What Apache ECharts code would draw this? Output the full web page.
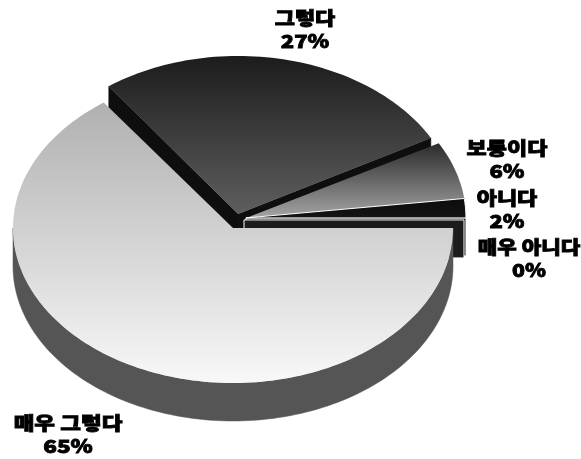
<!DOCTYPE html>
<html><head><meta charset="utf-8">
<script src="https://cdn.jsdelivr.net/npm/echarts@6/dist/echarts.min.js"></script>
<style>html,body{margin:0;padding:0;background:#fff}#c{width:581px;height:459px;filter:blur(0.45px)}</style>
</head><body><div id="c"></div>
<script>
// data
const categories = ['매우 그렇다','그렇다','보통이다','아니다','매우 아니다'];
const values = [65,27,6,2,0];
// layout / style, per category
const explodeX = [0,0.023,0.059,0.059,0.05];
const explodeY = [0,0.09,0.065,0.065,0.052];
const radiusY = [1,1.02,1,1,1];
const topColors = [['#b0b0b0','#f8f8f8'],['#1c1c1c','#5e5e5e'],['#2a2a2a','#a4a4a4'],['#0c0c0c','#141414'],['#111','#111']];
const cutColors = ['#555','#0e0e0e','#0c0c0c','#0a0a0a','#1c1c1c'];
const edgeColors = [null,null,null,'#fff','#fff'];
const labelX = [68,305,507,507,529];
const labelY = [411,6,136,186,235];
const labelScale = [1.25,1.22,1.22,1.22,1.18];
const drawOrder = [1,2,3,4,0];
const depth = 0.245;
const wallColor = '#555';

const total = values.reduce((a,b)=>a+b,0);
const starts = []; let acc = 0;
values.forEach(v=>{starts.push(acc); acc += v/total*360;});

function renderItem(params, api){
  const i = api.value(0), v = api.value(1);
  const s = starts[i], e = s + v/total*360;
  const ox = explodeX[i], oy = explodeY[i], ry = radiusY[i];
  const P = (deg,d)=>{const t=deg*Math.PI/180;
    return api.coord([ox+Math.cos(t), oy-ry*Math.sin(t)-(d||0)]);};
  const C = d=>api.coord([ox, oy-(d||0)]);
  const arc = (a,b,d)=>{const pts=[];const n=Math.max(1,Math.ceil(Math.abs(b-a)/1.5));
    for(let k=0;k<=n;k++)pts.push(P(a+(b-a)*k/n,d));return pts;};
  const kids = [];
  const poly = (points,style)=>kids.push({type:'polygon',shape:{points},style});
  const cut = deg=>poly([C(0),P(deg,0),P(deg,depth),C(depth)],
    {fill:cutColors[i],stroke:edgeColors[i]||cutColors[i],lineWidth:edgeColors[i]?1:0.5});
  if(Math.cos(s*Math.PI/180)<0) cut(s);
  if(Math.cos(e*Math.PI/180)>0) cut(e);
  const wa=Math.max(s,0), wb=Math.min(e,180);
  if(wb>wa){
    poly(arc(wa,wb,0).concat(arc(wb,wa,depth)),{fill:wallColor,stroke:wallColor,lineWidth:0.5});
  }
  if(v>0){
    poly([C(0)].concat(arc(s,e,0)),{
      fill:new echarts.graphic.LinearGradient(0,0,0,1,[
        {offset:0,color:topColors[i][0]},{offset:1,color:topColors[i][1]}]),
      stroke:edgeColors[i]||'transparent',lineWidth:edgeColors[i]?1:0});
  }
  kids.push({type:'text',z2:10,x:labelX[i],y:labelY[i],scaleX:labelScale[i],style:{
    text:categories[i]+'\n'+v+'%',x:0,y:0,
    align:'center',verticalAlign:'top',lineHeight:23.5,
    fontFamily:'"Noto Sans CJK KR"',fontWeight:900,fontSize:18,
    fill:'#000',stroke:'#000',lineWidth:0.8}});
  return {type:'group',children:kids};
}

const chart = echarts.init(document.getElementById('c'),null,{renderer:'canvas'});
chart.setOption({
  animation:false,
  backgroundColor:'#fff',
  grid:{left:13,top:73,width:440,height:310},
  xAxis:{type:'value',min:-1,max:1,show:false},
  yAxis:{type:'value',min:-1,max:1,show:false},
  series:[{type:'custom',renderItem,clip:false,silent:true,
    encode:{x:0,y:1},
    data:drawOrder.map(i=>({name:categories[i],value:[i,values[i]]}))}]
});
</script></body></html>
